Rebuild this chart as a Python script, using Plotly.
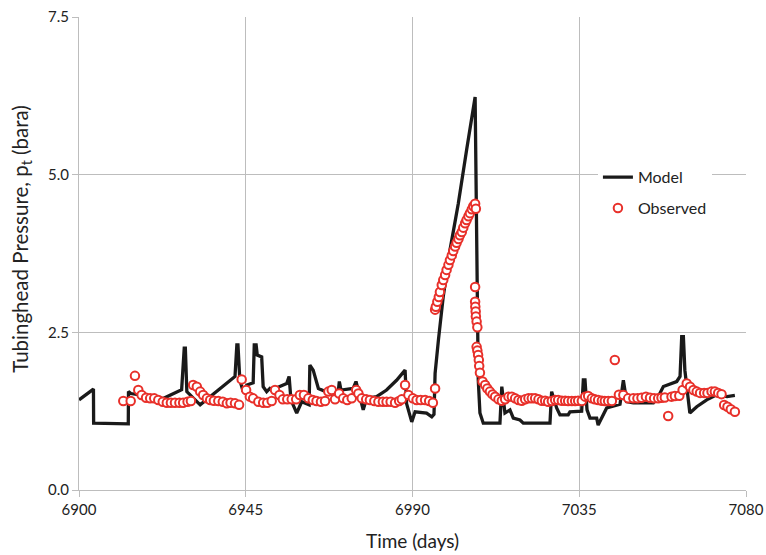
import plotly.graph_objects as go

# Simulated tubinghead pressure (model)
model_day = [6900.0, 6903.9, 6903.95, 6913.3, 6913.35, 6914.0, 6922.7, 6927.7, 6928.4, 6928.7,
             6929.1, 6930.4, 6932.7, 6942.1, 6942.6, 6942.9, 6943.4, 6944.3, 6945.3, 6947.0,
             6947.3, 6947.8, 6948.1, 6949.3, 6949.7, 6950.65, 6951.5, 6952.4, 6953.35, 6956.05,
             6956.7, 6957.2, 6958.75, 6960.1, 6962.1, 6962.3, 6963.2, 6964.6, 6966.4, 6968.6,
             6969.9, 6970.25, 6970.7, 6974.0, 6974.75, 6975.3, 6976.7, 6977.6, 6980.3, 6983.0,
             6985.7, 6988.0, 6988.4, 6989.8, 6990.7, 6993.8, 6995.2, 6995.8, 6996.1, 6997.0,
             6998.3, 7000.1, 7002.35, 7004.6, 7006.9, 7007.75, 7008.2, 7009.1, 7013.6, 7014.1,
             7014.95, 7016.3, 7017.2, 7019.0, 7019.9, 7027.1, 7027.55, 7028.9, 7029.8, 7032.0,
             7032.5, 7035.65, 7036.1, 7036.55, 7037.1, 7037.9, 7039.7, 7040.1, 7040.9, 7042.4,
             7046.0, 7046.9, 7047.8, 7049.6, 7055.0, 7056.3, 7057.7, 7061.3, 7062.2, 7062.65,
             7063.1, 7063.5, 7064.85, 7066.7, 7069.4, 7072.1, 7074.9, 7077.0]
model_p = [1.43, 1.60, 1.06, 1.05, 1.56, 1.53, 1.45, 1.59, 2.25, 2.25,
           1.56, 1.48, 1.35, 1.80, 2.30, 2.30, 1.745, 1.56, 1.664, 1.70,
           2.30, 2.30, 2.14, 2.11, 1.64, 1.56, 1.61, 1.56, 1.62, 1.69,
           1.80, 1.43, 1.22, 1.40, 1.35, 1.98, 1.90, 1.61, 1.56, 1.51,
           1.52, 1.72, 1.585, 1.61, 1.72, 1.60, 1.27, 1.45, 1.48, 1.585,
           1.74, 1.90, 1.37, 1.08, 1.24, 1.22, 1.16, 1.20, 1.85, 2.38,
           3.07, 3.80, 4.54, 5.39, 6.23, 1.74, 1.22, 1.06, 1.06, 1.64,
           1.22, 1.27, 1.14, 1.11, 1.06, 1.06, 1.56, 1.30, 1.19, 1.19,
           1.24, 1.25, 1.745, 1.745, 1.27, 1.14, 1.14, 1.03, 1.12, 1.30,
           1.36, 1.74, 1.40, 1.38, 1.38, 1.48, 1.64, 1.72, 1.80, 2.43,
           2.43, 1.90, 1.22, 1.32, 1.43, 1.51, 1.48, 1.50]

# Measured tubinghead pressure (observed)
obs_day = [6911.95, 6913.95, 6915.1, 6916.0, 6916.9, 6918.1, 6919.2, 6920.3, 6921.4, 6922.6,
           6923.7, 6924.8, 6925.9, 6927.1, 6928.1, 6929.3, 6930.2, 6930.8, 6931.8, 6932.7,
           6933.5, 6934.5, 6935.4, 6936.4, 6937.6, 6938.8, 6939.9, 6940.9, 6942.1, 6943.2,
           6943.9, 6945.1, 6946.1, 6947.0, 6948.4, 6949.7, 6950.8, 6952.0, 6952.9, 6954.1,
           6955.0, 6956.2, 6957.4, 6958.6, 6959.6, 6960.7, 6961.9, 6963.1, 6964.1, 6965.3,
           6966.4, 6967.3, 6968.2, 6969.1, 6970.2, 6971.3, 6972.4, 6973.6, 6974.8, 6975.4,
           6976.3, 6977.5, 6978.5, 6979.7, 6980.8, 6982.0, 6983.0, 6984.1, 6985.3, 6986.4,
           6987.1, 6988.0, 6988.9, 6990.1, 6991.1, 6992.2, 6993.4, 6994.5, 6995.5, 6996.1,
           6996.1, 6996.3, 6996.7, 6997.1, 6997.4, 6997.9, 6998.3, 6998.8, 6999.2, 6999.7,
           7000.1, 7000.6, 7001.0, 7001.5, 7001.9, 7002.4, 7002.8, 7003.3, 7003.7, 7004.2,
           7004.6, 7005.1, 7005.5, 7006.0, 7006.4, 7006.9, 7007.1,
           7006.9, 7006.9, 7006.95, 7007.05, 7007.1, 7007.3, 7007.5, 7007.3, 7007.5, 7007.7,
           7007.9, 7008.0, 7008.2, 7008.9, 7009.6, 7010.2, 7010.9, 7011.6, 7012.3, 7013.2,
           7014.1, 7015.0, 7015.9, 7016.8, 7017.7, 7018.6, 7019.5, 7020.4, 7021.3, 7022.2,
           7023.1, 7024.0, 7024.9, 7025.8, 7026.6, 7027.6, 7028.5, 7029.3, 7030.3, 7031.2,
           7032.0, 7033.0, 7033.9, 7034.7, 7035.7, 7036.6, 7037.4, 7038.4, 7039.2, 7040.1,
           7041.1, 7041.9, 7042.8, 7043.8, 7044.6, 7045.7, 7046.9, 7048.2, 7049.6, 7050.7,
           7051.8, 7053.0, 7054.1, 7055.2, 7056.3, 7057.2, 7058.1, 7059.0, 7059.9, 7060.8,
           7062.0, 7062.9, 7064.0, 7064.9, 7065.8, 7066.7, 7067.6, 7068.7, 7069.6, 7070.7,
           7071.6, 7072.5, 7073.4, 7074.1, 7075.0, 7075.9, 7077.0]
obs_p = [1.41, 1.41, 1.81, 1.585, 1.506, 1.464, 1.453, 1.453, 1.426, 1.40,
         1.384, 1.384, 1.384, 1.384, 1.384, 1.40, 1.41, 1.664, 1.637, 1.56,
         1.506, 1.453, 1.426, 1.416, 1.41, 1.40, 1.374, 1.384, 1.374, 1.35,
         1.754, 1.585, 1.48, 1.453, 1.40, 1.384, 1.384, 1.41, 1.585, 1.506,
         1.437, 1.437, 1.437, 1.437, 1.506, 1.506, 1.453, 1.426, 1.41, 1.40,
         1.41, 1.56, 1.585, 1.437, 1.53, 1.453, 1.426, 1.453, 1.585, 1.53,
         1.453, 1.437, 1.426, 1.41, 1.40, 1.40, 1.40, 1.40, 1.384, 1.41,
         1.437, 1.664, 1.506, 1.453, 1.426, 1.426, 1.426, 1.41, 1.384, 1.61,
         2.86, 2.905, 2.985, 3.06, 3.14, 3.25, 3.33, 3.41, 3.49, 3.57,
         3.645, 3.72, 3.79, 3.86, 3.92, 3.98, 4.04, 4.09, 4.16, 4.23,
         4.28, 4.34, 4.39, 4.45, 4.50, 4.54, 4.46,
         3.22, 2.985, 2.905, 2.83, 2.75, 2.67, 2.58, 2.27, 2.21, 2.14,
         2.06, 1.965, 1.86, 1.72, 1.664, 1.61, 1.56, 1.516, 1.48, 1.437,
         1.416, 1.437, 1.48, 1.48, 1.453, 1.426, 1.416, 1.437, 1.453, 1.453,
         1.453, 1.437, 1.416, 1.416, 1.40, 1.41, 1.426, 1.426, 1.416, 1.416,
         1.41, 1.41, 1.41, 1.416, 1.41, 1.48, 1.49, 1.453, 1.437, 1.426,
         1.416, 1.41, 1.41, 1.41, 2.06, 1.51, 1.506, 1.453, 1.453, 1.453,
         1.463, 1.48, 1.463, 1.453, 1.453, 1.463, 1.468, 1.173, 1.48, 1.49,
         1.495, 1.585, 1.69, 1.637, 1.585, 1.56, 1.54, 1.54, 1.54, 1.56,
         1.56, 1.54, 1.52, 1.347, 1.32, 1.28, 1.24]

x_ticks = [6900, 6945, 6990, 7035, 7080]
y_ticks = [0.0, 2.5, 5.0, 7.5]

FONT = "Lato"
TEXT = "#222222"
GRID = "#bdbdbd"

fig = go.Figure()
fig.add_trace(go.Scatter(
    x=model_day, y=model_p, mode="lines", name="Model", legendgroup="model",
    line=dict(color="#1a1a1a", width=3.3),
))
fig.add_trace(go.Scatter(
    x=obs_day, y=obs_p, mode="markers", name="Observed", legendgroup="obs",
    marker=dict(symbol="circle", size=8.5, color="white",
                line=dict(color="#e8302a", width=2)),
))

fig.update_layout(
    width=766, height=555,
    margin=dict(l=79, r=20, t=17, b=65),
    paper_bgcolor="white", plot_bgcolor="white",
    font=dict(family=FONT, size=15, color=TEXT),
    showlegend=True,
    legend=dict(x=0.778, y=0.697, xanchor="left", yanchor="top",
                bgcolor="white", borderwidth=0,
                font=dict(family=FONT, size=16, color=TEXT),
                traceorder="grouped", tracegroupgap=7),
    xaxis=dict(range=[6900, 7080], tickvals=x_ticks, ticktext=[str(v) for v in x_ticks],
               showgrid=True, gridcolor=GRID, gridwidth=1,
               showline=True, linecolor=GRID, linewidth=1,
               ticks="outside", ticklen=6, tickcolor=GRID,
               zeroline=False, automargin=False),
    yaxis=dict(range=[0, 7.5], tickvals=y_ticks, ticktext=[f"{v:.1f}" for v in y_ticks],
               showgrid=True, gridcolor=GRID, gridwidth=1,
               showline=True, linecolor=GRID, linewidth=1,
               ticks="outside", ticklen=6, tickcolor=GRID,
               zeroline=False, automargin=False),
    annotations=[
        dict(text="Time (days)", xref="paper", yref="paper",
             x=0.5, y=-0.106, xanchor="center", yanchor="middle",
             showarrow=False, font=dict(family=FONT, size=19, color=TEXT)),
        dict(text="Tubinghead Pressure, p<sub>t</sub> (bara)", xref="paper", yref="paper",
             x=-0.0855, y=0.531, xanchor="center", yanchor="middle", textangle=-90,
             showarrow=False, font=dict(family=FONT, size=20.5, color=TEXT)),
    ],
)

fig.write_html("out.html")
